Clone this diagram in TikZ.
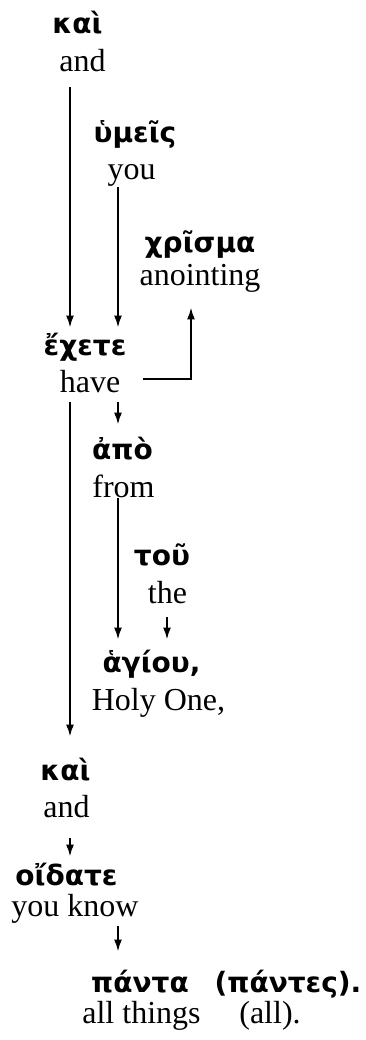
\documentclass[tikz,border=0pt]{standalone}
\usepackage{fontspec}
\setmainfont{Liberation Serif}
\newfontfamily\grk{DejaVu Sans}
\usetikzlibrary{arrows.meta}
\tikzset{gr/.style={anchor=base,inner sep=0pt,text height=10pt,text depth=0pt,
  font=\grk\bfseries\fontsize{14}{16}\selectfont}}
\tikzset{en/.style={anchor=base,inner sep=0pt,text depth=4pt,
  font=\fontsize{16}{19}\selectfont}}
\tikzset{arr/.style={line width=1pt,-{Latex[length=6pt,width=4pt]}}}

\begin{document}
\begin{tikzpicture}[x=0.5pt,y=-0.5pt]
\useasboundingbox (0,0) rectangle (365,1040);

% columns of the connectors
\coordinate (colA) at (70,0);
\coordinate (colB) at (118,0);
\coordinate (colC) at (167,0);
\coordinate (colD) at (191,0);

\node[gr] (kai) at (77.5,33) {καὶ};
\node[en] (kaiE) at (82.5,71) {and};
\node[gr] (hymeis) at (135,142) {ὑμεῖς};
\node[en] (hymeisE) at (131.5,179) {you};
\node[gr] (chrisma) at (200,252) {χρῖσμα};
\node[en] (chrismaE) at (200,285) {anointing};
\node[gr] (echete) at (85,355) {ἔχετε};
\node[en] (echeteE) at (90,392) {have};
\node[gr] (apo) at (122.5,459) {ἀπὸ};
\node[en] (apoE) at (123.5,497) {from};
\node[gr] (tou) at (162,565) {τοῦ};
\node[en] (touE) at (167.5,603) {the};
\node[gr] (hagiou) at (151.5,672) {ἁγίου,};
\node[en] (hagiouE) at (158.5,710) {Holy One,};
\node[gr] (kaiB) at (65.5,780) {καὶ};
\node[en] (kaiBE) at (66.5,817) {and};
\node[gr] (oidate) at (66.5,885) {οἴδατε};
\node[en] (oidateE) at (75,916) {you know};
\node[gr] (panta) at (140,992) {πάντα};
\node[gr] (pantes) at (288,992) {(πάντες).};
\node[en] (pantaE) at (141.5,1023) {all things};
\node[en] (pantesE) at (270,1023) {(all).};

\draw[arr,shorten <=4pt,shorten >=3.5pt] (kaiE.south -| colA) -- (echete.north -| colA);
\draw[arr,shorten >=3.5pt] (hymeisE.south -| colB) -- (echete.north -| colB);
\draw[arr,shorten >=7pt] ([shift={(11pt,6.5pt)}]echeteE.base east) -| (chrismaE.south -| colD);
\draw[arr,shorten <=1pt,shorten >=7pt] (echeteE.south -| colB) -- (apo.north -| colB);
\draw[arr,shorten <=1pt,shorten >=11.5pt] (echeteE.south -| colA) -- (kaiB.north -| colA);
\draw[arr,shorten <=-3.5pt,shorten >=6pt] (apoE.south -| colB) -- (hagiou.north -| colB);
\draw[arr,shorten <=3pt,shorten >=6pt] (touE.south -| colC) -- (hagiou.north -| colC);
\draw[arr,shorten <=6.5pt,shorten >=4pt] (kaiBE.south -| colA) -- (oidate.north -| colA);
\draw[arr,shorten <=1pt,shorten >=10pt] (oidateE.south -| colB) -- (panta.north -| colB);

\end{tikzpicture}
\end{document}
